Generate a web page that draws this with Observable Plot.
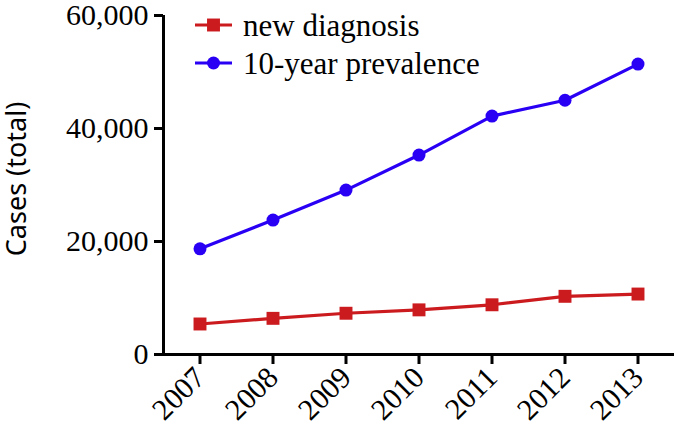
<!DOCTYPE html>
<html><head><meta charset="utf-8">
<script src="https://cdn.jsdelivr.net/npm/d3@7"></script>
<script src="https://cdn.jsdelivr.net/npm/@observablehq/plot@0.6"></script>
<style>
body{margin:0;background:#fff;}
#chart svg{display:block;}
</style>
</head><body><div id="chart"></div>
<script>
const years = [2007, 2008, 2009, 2010, 2011, 2012, 2013];
const newDiagnosis = [5400, 6400, 7300, 7900, 8800, 10300, 10700];
const prevalence10y = [18700, 23800, 29100, 35300, 42200, 45000, 51400];
const yTicks = [0, 20000, 40000, 60000];
const seriesNames = ["new diagnosis", "10-year prevalence"];
const seriesColors = ["#cc1b1f", "#2a00f5"];
const seriesSymbols = ["square", "circle"];
const yLabel = "Cases (total)";

const serif = "'Liberation Serif', 'Times New Roman', serif";
const sans = "'Noto Sans', 'Open Sans', sans-serif";

const rowsNew = years.map((y, i) => ({year: y, value: newDiagnosis[i]}));
const rowsPrev = years.map((y, i) => ({year: y, value: prevalence10y[i]}));

const W = 676, H = 438;
const plot = Plot.plot({
  width: W, height: H,
  marginLeft: 163, marginRight: 2, marginTop: 15, marginBottom: 84,
  style: {fontFamily: serif, background: "#fff", color: "#000", overflow: "visible"},
  x: {domain: [years[0] - 0.5, years[years.length - 1] + 0.5]},
  y: {domain: [yTicks[0], yTicks[yTicks.length - 1]]},
  marks: [
    Plot.axisY({ticks: yTicks, tickFormat: d3.format(","), tickSize: 9, tickPadding: 6,
      strokeWidth: 3, fontSize: 30, fontFamily: serif, label: null}),
    Plot.axisX({ticks: years, tickFormat: d => String(d), tickSize: 10, tickPadding: 8,
      tickRotate: -45, strokeWidth: 3, fontSize: 30, fontFamily: serif, label: null}),
    Plot.ruleX([years[0] - 0.5], {stroke: "#000", strokeWidth: 3}),
    Plot.ruleY([0], {stroke: "#000", strokeWidth: 3}),
    Plot.line(rowsNew, {x: "year", y: "value", stroke: seriesColors[0], strokeWidth: 3.2}),
    Plot.dot(rowsNew, {x: "year", y: "value", fill: seriesColors[0], symbol: seriesSymbols[0], r: 7.3}),
    Plot.line(rowsPrev, {x: "year", y: "value", stroke: seriesColors[1], strokeWidth: 3.2}),
    Plot.dot(rowsPrev, {x: "year", y: "value", fill: seriesColors[1], symbol: seriesSymbols[1], r: 6.5}),
    Plot.text([yLabel], {frameAnchor: "left", rotate: -90, dx: -146, dy: -6, textAnchor: "middle",
      fontSize: 27, fontFamily: sans, fill: "#000"})
  ]
});
document.getElementById("chart").appendChild(plot);

// legend (inside plot area, top-left)
const svg = d3.select(plot);
const leg = svg.append("g").attr("class", "legend").attr("text-anchor", "start");
const legX0 = 195, legX1 = 232, legTextX = 243, legY = [25, 63];
seriesNames.forEach((name, i) => {
  const g = leg.append("g");
  g.append("line").attr("x1", legX0).attr("x2", legX1).attr("y1", legY[i]).attr("y2", legY[i])
    .attr("stroke", seriesColors[i]).attr("stroke-width", 3.2);
  const sym = seriesSymbols[i] === "square" ? d3.symbolSquare : d3.symbolCircle;
  const r = i === 0 ? 7.3 : 6.5;
  g.append("path").attr("d", d3.symbol(sym, Math.PI * r * r)())
    .attr("transform", `translate(${(legX0 + legX1) / 2},${legY[i]})`).attr("fill", seriesColors[i]);
  g.append("text").attr("x", legTextX).attr("y", legY[i]).attr("dy", "0.35em")
    .attr("text-anchor", "start")
    .attr("font-family", serif).attr("font-size", 31).attr("fill", "#000").text(name);
});
</script>
</body></html>
